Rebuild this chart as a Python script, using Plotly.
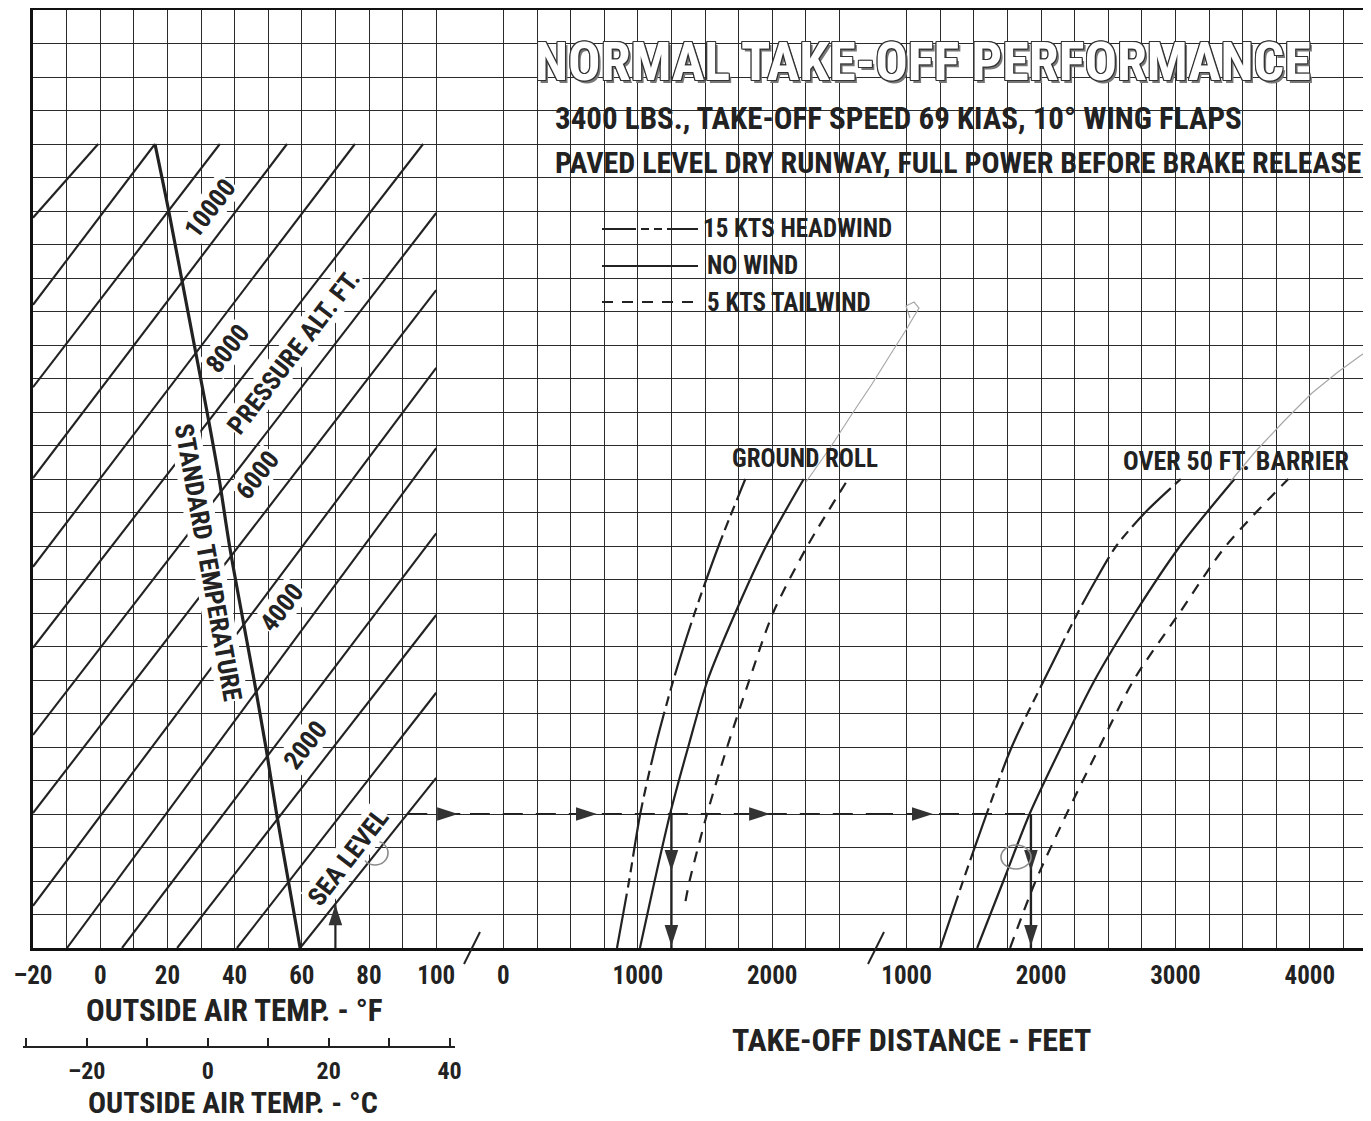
import plotly.graph_objects as go

W, H = 1371, 1121
OX, OY = 8, 8   # page body margin offset

# ---------------- data ----------------
# Pressure-altitude lines in the temperature panel: endpoints (OAT degF, density altitude ft)
pa_ft = [13000, 12000, 11000, 10000, 9000, 8000, 7000, 6000, 5000, 4000, 3000, 2000, 1000, 0]
pa_t_lo = [-20, -20, -20, -20, -20, -20, -20, -20, -20, -9.9, 6.5, 22.9, 40.7, 59.5]
pa_da_lo = [10900, 9600, 8370, 7015, 5690, 4480, 3180, 2015, 630, 0, 0, 0, 0, 0]
pa_t_hi = [-0.6, 16.3, 35.6, 55.6, 75.8, 96.1, 100, 100, 100, 100, 100, 100, 100, 100]
pa_da_hi = [12000, 12000, 12000, 12000, 12000, 12000, 10970, 9820, 8660, 7460, 6190, 4970, 3810, 2540]

# Standard temperature line
std_da = [0, 1000, 2000, 3000, 4000, 5000, 6000, 7000, 8000, 9000, 10000, 11000, 12000]
std_t = [59.5, 56.0, 52.5, 49.3, 45.8, 42.1, 38.5, 35.4, 31.8, 28.0, 24.2, 20.4, 16.3]

# Pressure altitude labels (text, OAT degF, density altitude ft)
pa_lbl_text = ["10000", "8000", "PRESSURE ALT. FT.", "6000", "4000", "2000", "SEA LEVEL"]
pa_lbl_t = [32.7, 38.0, 57.5, 46.7, 54.1, 61.0, 73.8]
pa_lbl_da = [11045, 8955, 8900, 7060, 5090, 3030, 1358]

# Ground roll (ft) vs density altitude (ft)
gr_da = [0, 1000, 2000, 3000, 4000, 5000, 6000, 7000]
gr_headwind = [845, 935, 1018, 1130, 1265, 1423, 1601, 1800]
gr_nowind = [1016, 1125, 1240, 1375, 1520, 1725, 1955, 2235]
gr_tw_da = [700, 1000, 2000, 3000, 4000, 5000, 6000, 7000]
gr_tailwind = [1355, 1385, 1515, 1665, 1830, 2006, 2262, 2565]

# Total distance over 50 ft barrier (ft) vs density altitude (ft)
bar_hw_da = [0, 1000, 2000, 3000, 4000, 5000, 5500, 6000, 6500, 7000]
bar_headwind = [1250, 1420, 1595, 1782, 2023, 2273, 2410, 2560, 2775, 3040]
bar_da = [0, 1000, 2000, 3000, 4000, 5000, 6000, 7000]
bar_nowind = [1525, 1720, 1915, 2150, 2400, 2700, 3035, 3440]
bar_tailwind = [1770, 1960, 2190, 2435, 2690, 3030, 3375, 3840]

# Worked example
ex_da = 2000
ex_oat_start = 91.4
ex_up_oat = 70
ex_up_da = 650
ex_gr = 1250
ex_bar = 1925
ex_right_oat = [106.5]
ex_right_gr = [696, 1984]
ex_right_bar = [1196]
ex_down_da = [1150, 30]

# Axis tick labels
f_ticks = list(range(-20, 111, 10))
f_text = ["\u201320" if v == -20 else (str(v) if v % 20 == 0 and v <= 100 else "") for v in f_ticks]
gr_ticks = list(range(-250, 2751, 250))
gr_text = [str(v) if v in (0, 1000, 2000) else "" for v in gr_ticks]
bar_ticks = list(range(750, 4501, 250))
bar_text = [str(v) if v in (1000, 2000, 3000, 4000) else "" for v in bar_ticks]
c_ticks = [-30, -20, -10, 0, 10, 20, 30, 40]
c_text = ["", "\u201320", "", "0", "", "20", "", "40"]
da_ticks = list(range(0, 14001, 500))

legend_names = ["15 KTS HEADWIND", "NO WIND", "5 KTS TAILWIND"]

# faint pencil marks on the original sheet (page pixels)
pencil_a_x = [806, 830, 852, 872, 892, 906, 913, 919, 914, 906, 910]
pencil_a_y = [482, 448, 414, 384, 352, 330, 318, 308, 302, 306, 318]
pencil_b_x = [1230, 1255, 1285, 1312, 1338, 1360, 1375]
pencil_b_y = [482, 452, 420, 393, 372, 356, 346]
pencil_circles = [(375, 853, 13, 12), (1016, 857, 15, 12)]

# ---------------- styling ----------------
FONT = "Roboto Condensed, Liberation Sans Narrow, DejaVu Sans Condensed, Roboto, sans-serif"
INK = "#222222"
GRID = "#2b2b2b"
HW_DASH = "55px,6px,10px,6px,10px,6px"
TW_DASH = "11px,9px"


def px(xp):
    return (xp - OX) / W


def py(yp):
    return 1 - (yp - OY) / H


fig = go.Figure()

# pressure altitude lines
xs, ys = [], []
for a, b, c, d in zip(pa_t_lo, pa_da_lo, pa_t_hi, pa_da_hi):
    xs += [a, c, None]
    ys += [b, d, None]
fig.add_trace(go.Scatter(x=xs, y=ys, mode="lines", line=dict(color=INK, width=2.1),
                         xaxis="x", yaxis="y", showlegend=False, hoverinfo="skip"))
# standard temperature
fig.add_trace(go.Scatter(x=std_t, y=std_da, mode="lines", line=dict(color=INK, width=3.2, shape="spline"),
                         xaxis="x", yaxis="y", showlegend=False, hoverinfo="skip"))

# ground roll curves
fig.add_trace(go.Scatter(x=gr_headwind, y=gr_da, mode="lines", xaxis="x2", yaxis="y",
                         line=dict(color=INK, width=2.2, dash=HW_DASH, shape="spline", smoothing=0.8),
                         showlegend=False, hoverinfo="skip"))
fig.add_trace(go.Scatter(x=gr_nowind, y=gr_da, mode="lines", xaxis="x2", yaxis="y",
                         line=dict(color=INK, width=2.2, shape="spline", smoothing=0.8),
                         showlegend=False, hoverinfo="skip"))
fig.add_trace(go.Scatter(x=gr_tailwind, y=gr_tw_da, mode="lines", xaxis="x2", yaxis="y",
                         line=dict(color=INK, width=2.2, dash=TW_DASH, shape="spline", smoothing=0.8),
                         showlegend=False, hoverinfo="skip"))
# barrier curves
fig.add_trace(go.Scatter(x=bar_headwind, y=bar_hw_da, mode="lines", xaxis="x3", yaxis="y",
                         line=dict(color=INK, width=2.2, dash=HW_DASH, shape="spline", smoothing=0.8),
                         showlegend=False, hoverinfo="skip"))
fig.add_trace(go.Scatter(x=bar_nowind, y=bar_da, mode="lines", xaxis="x3", yaxis="y",
                         line=dict(color=INK, width=2.2, shape="spline", smoothing=0.8),
                         showlegend=False, hoverinfo="skip"))
fig.add_trace(go.Scatter(x=bar_tailwind, y=bar_da, mode="lines", xaxis="x3", yaxis="y",
                         line=dict(color=INK, width=2.2, dash=TW_DASH, shape="spline", smoothing=0.8),
                         showlegend=False, hoverinfo="skip"))

# worked example path
EXD = "20px,13px"
fig.add_trace(go.Scatter(x=[ex_oat_start, 110], y=[ex_da, ex_da], mode="lines", xaxis="x", yaxis="y",
                         line=dict(color=INK, width=2, dash=EXD), showlegend=False, hoverinfo="skip"))
fig.add_trace(go.Scatter(x=[-250, 2750], y=[ex_da, ex_da], mode="lines", xaxis="x2", yaxis="y",
                         line=dict(color=INK, width=2, dash=EXD), showlegend=False, hoverinfo="skip"))
fig.add_trace(go.Scatter(x=[750, ex_bar], y=[ex_da, ex_da], mode="lines", xaxis="x3", yaxis="y",
                         line=dict(color=INK, width=2, dash=EXD), showlegend=False, hoverinfo="skip"))
fig.add_trace(go.Scatter(x=[ex_up_oat, ex_up_oat], y=[0, ex_up_da], mode="lines", xaxis="x", yaxis="y",
                         line=dict(color=INK, width=2.2), showlegend=False, hoverinfo="skip"))
fig.add_trace(go.Scatter(x=[ex_gr, ex_gr], y=[ex_da, 0], mode="lines", xaxis="x2", yaxis="y",
                         line=dict(color=INK, width=2.4), showlegend=False, hoverinfo="skip"))
fig.add_trace(go.Scatter(x=[ex_bar, ex_bar], y=[ex_da, 0], mode="lines", xaxis="x3", yaxis="y",
                         line=dict(color=INK, width=2.4), showlegend=False, hoverinfo="skip"))

AH = dict(symbol="arrow", size=22, color="#333333", line=dict(width=0))
fig.add_trace(go.Scatter(x=ex_right_oat, y=[ex_da] * len(ex_right_oat), mode="markers", xaxis="x", yaxis="y",
                         marker=dict(AH, angle=90), cliponaxis=False, showlegend=False, hoverinfo="skip"))
fig.add_trace(go.Scatter(x=[ex_up_oat], y=[ex_up_da], mode="markers", xaxis="x", yaxis="y",
                         marker=dict(AH, angle=0), cliponaxis=False, showlegend=False, hoverinfo="skip"))
fig.add_trace(go.Scatter(x=ex_right_gr, y=[ex_da] * len(ex_right_gr), mode="markers", xaxis="x2", yaxis="y",
                         marker=dict(AH, angle=90), cliponaxis=False, showlegend=False, hoverinfo="skip"))
fig.add_trace(go.Scatter(x=[ex_gr] * len(ex_down_da), y=ex_down_da, mode="markers", xaxis="x2", yaxis="y",
                         marker=dict(AH, angle=180), cliponaxis=False, showlegend=False, hoverinfo="skip"))
fig.add_trace(go.Scatter(x=ex_right_bar, y=[ex_da] * len(ex_right_bar), mode="markers", xaxis="x3", yaxis="y",
                         marker=dict(AH, angle=90), cliponaxis=False, showlegend=False, hoverinfo="skip"))
fig.add_trace(go.Scatter(x=[ex_bar] * len(ex_down_da), y=ex_down_da, mode="markers", xaxis="x3", yaxis="y",
                         marker=dict(AH, angle=180), cliponaxis=False, showlegend=False, hoverinfo="skip"))

# dummy trace so the Celsius axis is drawn
fig.add_trace(go.Scatter(x=[0], y=[0.5], mode="markers", marker=dict(opacity=0), xaxis="x4", yaxis="y2",
                         showlegend=False, hoverinfo="skip"))

# ---------------- axes ----------------
ydom = [py(948), py(10)]
tickfont = dict(family=FONT, size=25, color=INK, weight="bold")
common_x = dict(showgrid=True, gridcolor=GRID, gridwidth=1.4, zeroline=False, showline=True,
                linecolor="#111111", linewidth=2.6, mirror=True, ticks="", tickfont=tickfont,
                ticklabelstandoff=3, tickmode="array", fixedrange=True, automargin=False)

x1_right = 33 + 13 * 33.6
x2_right = x1_right + 12 * 33.6
fig.update_layout(
    width=W, height=H, margin=dict(l=0, r=0, t=0, b=0, pad=0, autoexpand=False),
    paper_bgcolor="white", plot_bgcolor="white", showlegend=False,
    xaxis=dict(common_x, domain=[px(33), px(x1_right)], range=[-20, 110], anchor="y",
               tickvals=f_ticks, ticktext=f_text),
    xaxis2=dict(common_x, domain=[px(x1_right), px(x2_right)], range=[-250, 2750], anchor="y",
                tickvals=gr_ticks, ticktext=gr_text),
    xaxis3=dict(common_x, domain=[px(x2_right), 1.0],
                range=[750, 750 + (W + OX - x2_right) / 33.6 * 250], anchor="y",
                tickvals=bar_ticks, ticktext=bar_text),
    yaxis=dict(domain=ydom, range=[0, 14000], anchor="x", tickmode="array", tickvals=da_ticks,
               showticklabels=False, showgrid=True, gridcolor=GRID, gridwidth=1.4, zeroline=False,
               showline=True, linecolor="#111111", linewidth=2.6, ticks="", fixedrange=True, automargin=False),
    xaxis4=dict(domain=[px(23), px(455)], range=[(23 - 207.7) / 6.048, (455 - 207.7) / 6.048],
                anchor="y2", showgrid=False, zeroline=False, showline=True, linecolor=INK, linewidth=2,
                ticks="inside", ticklen=8, tickwidth=2, tickcolor=INK, tickmode="array",
                tickvals=c_ticks, ticktext=c_text, tickfont=dict(family=FONT, size=24, color=INK, weight="bold"),
                ticklabelstandoff=2, fixedrange=True, automargin=False),
    yaxis2=dict(domain=[py(1046), py(1044)], range=[0, 1], visible=False, fixedrange=True, automargin=False),
)

# ---------------- white boxes (cover grid, under traces) ----------------
shapes = []
def wbox(x0, y0, x1, y1):
    shapes.append(dict(type="rect", xref="paper", yref="paper", x0=px(x0), x1=px(x1), y0=py(y1), y1=py(y0),
                       fillcolor="white", line=dict(width=0), layer="between"))
wbox(505.5, 25, W + 20, 176)     # title block
wbox(598, 200, 892, 317)         # legend block
wbox(736, 436, 877, 477)         # GROUND ROLL
wbox(1113, 436, 1362, 477)       # OVER 50 FT. BARRIER

# legend samples
for yy, dash in [(229, "34px,5px,8px,5px,8px,5px"), (266, "solid"), (302, TW_DASH)]:
    shapes.append(dict(type="line", xref="paper", yref="paper", x0=px(602), x1=px(698), y0=py(yy), y1=py(yy),
                       line=dict(color=INK, width=2, dash=dash)))
# axis break marks
for xb in [472, 876]:
    shapes.append(dict(type="line", xref="paper", yref="paper", x0=px(xb - 8), x1=px(xb + 8),
                       y0=py(964), y1=py(932), line=dict(color=INK, width=2)))
# pencil marks
for xx, yy in [(pencil_a_x, pencil_a_y), (pencil_b_x, pencil_b_y)]:
    path = "M " + " L ".join(f"{px(a):.5f},{py(b):.5f}" for a, b in zip(xx, yy))
    shapes.append(dict(type="path", xref="paper", yref="paper", path=path,
                       line=dict(color="#a8a8a8", width=1.2)))
for cx, cy, rx, ry in pencil_circles:
    shapes.append(dict(type="circle", xref="paper", yref="paper", x0=px(cx - rx), x1=px(cx + rx),
                       y0=py(cy + ry), y1=py(cy - ry), line=dict(color="#8c8c8c", width=1.6)))
fig.update_layout(shapes=shapes)

# ---------------- text ----------------
ann = []
def txt(x, y, s, size, anchor="center", angle=0, bg=None, color=INK, shadow=None, xref="paper", yref="paper"):
    f = dict(family=FONT, size=size, color=color, weight="bold")
    if shadow:
        f["shadow"] = shadow
    d = dict(x=x, y=y, xref=xref, yref=yref, text=s, showarrow=False, font=f, xanchor=anchor,
             yanchor="middle", textangle=angle)
    if bg:
        d.update(bgcolor=bg, borderpad=0)
    ann.append(d)

outline = ("-1px 0 0 #333, 1px 0 0 #333, 0 -1px 0 #333, 0 1px 0 #333, "
           "-1px -1px 0 #333, 1px 1px 0 #333, 1px -1px 0 #333, -1px 1px 0 #333, 2.5px 2.5px 0 #777")
txt(px(923), py(62), "NORMAL TAKE-OFF PERFORMANCE", 54, color="white", shadow=outline)
txt(px(553), py(119), "3400 LBS., TAKE-OFF SPEED 69 KIAS, 10\u00b0 WING FLAPS", 31, anchor="left")
txt(px(553), py(163), "PAVED LEVEL DRY RUNWAY, FULL POWER BEFORE BRAKE RELEASE", 30, anchor="left")

for yy, name, x0 in zip([229, 266, 302], legend_names, [701, 705, 705]):
    txt(px(x0), py(yy), name, 25, anchor="left")

txt(px(805), py(458), "GROUND ROLL", 25)
txt(px(1236), py(461), "OVER 50 FT. BARRIER", 26)

for s, t, d in zip(pa_lbl_text, pa_lbl_t, pa_lbl_da):
    txt(t, d, s, 26, angle=-52.4, bg="white", xref="x", yref="y")
txt(32.1, 5760, "STANDARD TEMPERATURE", 26, angle=79.8, bg="white", xref="x", yref="y")

txt(px(234), py(1010), "OUTSIDE AIR TEMP. - \u00b0F", 31)
txt(px(911), py(1040), "TAKE-OFF DISTANCE - FEET", 32)
txt(px(233), py(1102), "OUTSIDE AIR TEMP. - \u00b0C", 30)

fig.update_layout(annotations=ann)

fig.write_html("out.html")
